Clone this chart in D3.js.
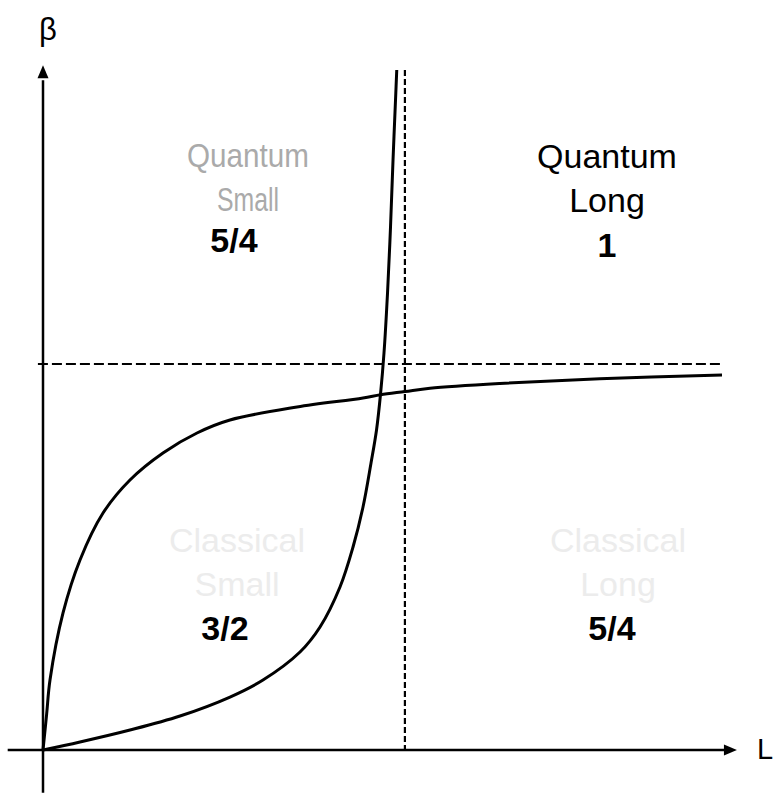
<!DOCTYPE html>
<html>
<head>
<meta charset="utf-8">
<script src="https://cdn.jsdelivr.net/npm/d3@7"></script>
<style>
  html, body { margin: 0; padding: 0; background: #fff; }
  svg { display: block; font-family: "Liberation Sans", Arial, sans-serif; }
</style>
</head>
<body>
<svg id="chart" width="773" height="795"></svg>
<script>
// Regime diagram: β versus L, split into four regions by two crossover curves.
const curveLx = [0, 0.54, 1.03, 2.95, 5.45, 8.84, 12.81, 17.67, 22.68, 27.54, 37.41, 47.13, 49.71, 53.31, 57.0, 67.3, 82.0, 100];
const curveLy = [0, 5.3, 10.29, 20.15, 27.94, 34.85, 39.71, 43.68, 46.62, 48.53, 50.44, 51.76, 52.25, 52.72, 53.2, 53.9, 54.6, 55.15];

const curveSx = [0, 5.45, 12.81, 20.18, 27.54, 32.40, 37.85, 40.80, 43.74, 45.66, 47.13, 48.31, 49.12, 49.71, 50.22, 50.74, 51.18, 51.55, 51.96, 52.10];
const curveSy = [0, 1.18, 2.94, 5.0, 7.79, 10.29, 14.41, 18.09, 23.97, 29.85, 35.74, 42.21, 47.06, 52.35, 58.38, 67.21, 76.91, 86.76, 96.62, 100];

// Asymptote levels (dashed guides)
const betaLimit = 56.76;
const lLimit = 53.3;

// Region labels: name words, exponent
const regionNames = ["Quantum Small", "Quantum Long", "Classical Small", "Classical Long"];
const regionExponents = ["5/4", "1", "3/2", "5/4"];
const regionNameX = [30.19, 83.06, 28.57, 84.68];
const regionNameY = [85.74, 85.59, 29.12, 29.12];
const regionExpX = [28.13, 83.06, 26.80, 83.8];
const regionExpY = [73.24, 72.5, 16.18, 16.18];

const svg = d3.select("#chart");
const x = d3.scaleLinear().domain([0, 100]).range([43, 722]);
const y = d3.scaleLinear().domain([0, 100]).range([750, 70]);

// Dashed guides
svg.append("line")
  .attr("x1", x(-0.75)).attr("x2", x(100))
  .attr("y1", y(betaLimit)).attr("y2", y(betaLimit))
  .attr("stroke", "#000").attr("stroke-width", 2)
  .attr("stroke-dasharray", "10,4");
svg.append("line")
  .attr("x1", x(lLimit)).attr("x2", x(lLimit))
  .attr("y1", y(100)).attr("y2", y(0))
  .attr("stroke", "#000").attr("stroke-width", 2.2)
  .attr("stroke-dasharray", "6,3");

// Axes
svg.append("line")
  .attr("x1", x(0)).attr("x2", x(0))
  .attr("y1", y(-6.3)).attr("y2", y(98.5))
  .attr("stroke", "#000").attr("stroke-width", 2.5);
svg.append("line")
  .attr("x1", x(-5.2)).attr("x2", x(100.5))
  .attr("y1", y(0)).attr("y2", y(0))
  .attr("stroke", "#000").attr("stroke-width", 2.5);

// Arrow heads
const yTip = [x(0), y(100.7)];
svg.append("path")
  .attr("d", `M${yTip[0]},${yTip[1]} L${yTip[0] - 5.5},${yTip[1] + 13} L${yTip[0] + 5.5},${yTip[1] + 13} Z`)
  .attr("fill", "#000");
const xTip = [x(102.2), y(0)];
svg.append("path")
  .attr("d", `M${xTip[0]},${xTip[1]} L${xTip[0] - 13},${xTip[1] - 5.5} L${xTip[0] - 13},${xTip[1] + 5.5} Z`)
  .attr("fill", "#000");

// Crossover curves
const line = d3.line()
  .x(d => x(d[0]))
  .y(d => y(d[1]))
  .curve(d3.curveCatmullRom.alpha(0.5));

svg.append("path")
  .datum(d3.zip(curveLx, curveLy))
  .attr("d", line)
  .attr("fill", "none").attr("stroke", "#000").attr("stroke-width", 3);
svg.append("path")
  .datum(d3.zip(curveSx, curveSy))
  .attr("d", line)
  .attr("fill", "none").attr("stroke", "#000").attr("stroke-width", 3);

// Axis titles
svg.append("text").attr("x", 39).attr("y", 40)
  .attr("font-size", 31).attr("fill", "#000").text("β");
svg.append("text").attr("x", 757).attr("y", 759)
  .attr("font-size", 29).attr("fill", "#000").text("L");

// Region labels
const nameColors = ["#aaaaaa", "#000", "#ececec", "#ececec"];
// the grey "Quantum Small" label is set in a narrower cut
const condensedWidths = { 0: [122, 62] };
regionNames.forEach((name, i) => {
  const words = name.split(" ");
  const g = svg.append("g")
    .attr("text-anchor", "middle")
    .attr("font-size", 34);
  words.forEach((w, j) => {
    const t = g.append("text")
      .attr("x", x(regionNameX[i]))
      .attr("y", y(regionNameY[i]) + j * 44)
      .attr("fill", nameColors[i])
      .text(w);
    if (condensedWidths[i]) {
      t.attr("textLength", condensedWidths[i][j]).attr("lengthAdjust", "spacingAndGlyphs");
    }
  });
  g.append("text")
    .attr("x", x(regionExpX[i]))
    .attr("y", y(regionExpY[i]))
    .attr("fill", "#000")
    .attr("font-weight", "bold")
    .text(regionExponents[i]);
});
</script>
</body>
</html>
